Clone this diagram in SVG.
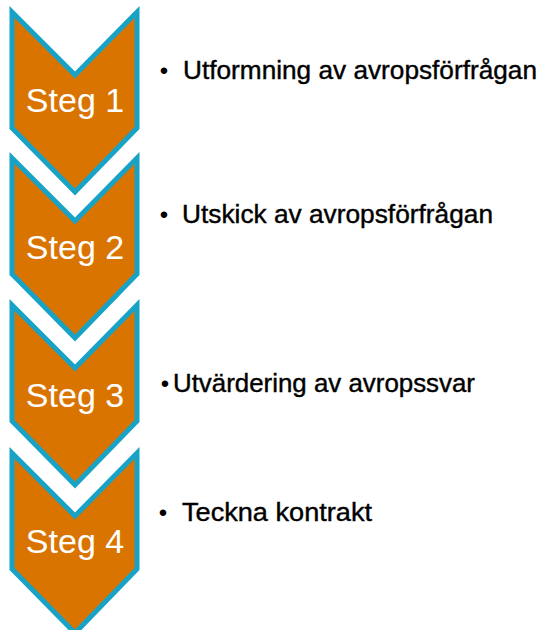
<svg xmlns="http://www.w3.org/2000/svg" width="540" height="630" viewBox="0 0 540 630">
  <defs>
    <style>
      .chev { fill: #DA7400; stroke: #18A2C6; stroke-width: 5; stroke-linejoin: miter; }
      .step { font-family: "Liberation Sans", Arial, sans-serif; font-size: 34px; fill: #FFFFFF; text-anchor: middle; }
      .item { font-family: "Liberation Sans", Arial, sans-serif; font-size: 26px; fill: #000000; stroke: #000000; stroke-width: 0.4; }
      .bullet { font-family: "Liberation Sans", Arial, sans-serif; font-size: 24px; fill: #000000; text-anchor: middle; }
    </style>
    <path id="chevShape" d="M12,12 L75,75 L137,12 L137,128 L75,192 L12,128 Z"/>
  </defs>
  <rect width="540" height="630" fill="#FFFFFF"/>

  <g id="step1">
    <use href="#chevShape" class="chev"/>
    <text class="step" x="75" y="112">Steg 1</text>
    <text class="bullet" x="164" y="79">•</text>
    <text class="item" x="183" y="79" textLength="354" lengthAdjust="spacingAndGlyphs">Utformning av avropsförfrågan</text>
  </g>

  <g id="step2" transform="translate(0,146)">
    <use href="#chevShape" class="chev"/>
    <text class="step" x="75" y="113">Steg 2</text>
  </g>
  <g id="item2">
    <text class="bullet" x="164" y="223">•</text>
    <text class="item" x="182" y="223" textLength="311" lengthAdjust="spacingAndGlyphs">Utskick av avropsförfrågan</text>
  </g>

  <g id="step3" transform="translate(0,293)">
    <use href="#chevShape" class="chev"/>
    <text class="step" x="75" y="114">Steg 3</text>
  </g>
  <g id="item3">
    <text class="bullet" x="165" y="392">•</text>
    <text class="item" x="173" y="392" textLength="302" lengthAdjust="spacingAndGlyphs">Utvärdering av avropssvar</text>
  </g>

  <g id="step4" transform="translate(0,441)">
    <use href="#chevShape" class="chev"/>
    <text class="step" x="75" y="112">Steg 4</text>
  </g>
  <g id="item4">
    <text class="bullet" x="163" y="521">•</text>
    <text class="item" x="182" y="521" textLength="190" lengthAdjust="spacingAndGlyphs">Teckna kontrakt</text>
  </g>
</svg>
